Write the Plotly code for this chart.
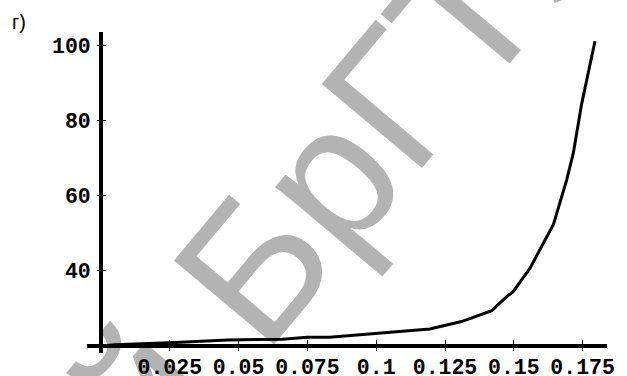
import plotly.graph_objects as go

# data
x_vals = [0.0, 0.005, 0.027, 0.046, 0.066, 0.075, 0.083, 0.110, 0.1195, 0.131, 0.134,
          0.142, 0.1474, 0.1497, 0.1559, 0.1644, 0.1692, 0.1716, 0.1747, 0.1795]
y_vals = [20.0, 20.3, 20.9, 21.6, 21.8, 22.3, 22.3, 23.8, 24.5, 26.5, 27.3,
          29.4, 33.1, 34.4, 40.7, 52.3, 64.1, 71.2, 84.5, 101.0]

x_ticks = [0.025, 0.05, 0.075, 0.1, 0.125, 0.15, 0.175]
x_tick_labels = ["0.025", "0.05", "0.075", "0.1", "0.125", "0.15", "0.175"]
y_ticks = [40, 60, 80, 100]
y_tick_labels = ["40", "60", "80", "100"]

panel_label = "г)"
watermark = "Репозиторий БрГТУ"

x_range = [-0.00509, 0.18387]
y_range = [18.139, 103.47]
x_cross = 0.0     # where the y axis sits
y_cross = 20.0    # where the x axis sits

pos_x_axis = (y_cross - y_range[0]) / (y_range[1] - y_range[0])
pos_y_axis = (x_cross - x_range[0]) / (x_range[1] - x_range[0])

tick_font = dict(family="Liberation Mono", size=21.5, color="black", weight="bold")

wm_cx, wm_cy = -0.1637, -0.5764   # watermark centre (paper units)

fig = go.Figure()
fig.add_trace(go.Scatter(x=x_vals, y=y_vals, mode="lines",
                         line=dict(color="black", width=3),
                         showlegend=False, hoverinfo="skip"))
fig.add_trace(go.Scatter(x=[None], y=[None], xaxis="x2", yaxis="y2",
                         showlegend=False, hoverinfo="skip"))

fig.update_layout(
    width=627, height=376,
    margin=dict(l=87, r=20, t=32, b=23, pad=0, autoexpand=False),
    paper_bgcolor="white", plot_bgcolor="white",
    xaxis=dict(range=x_range, anchor="free", position=pos_x_axis, automargin=False,
               showline=True, linewidth=4, linecolor="black",
               ticks="inside", ticklen=4, tickwidth=1, tickcolor="black",
               tickvals=x_ticks, ticktext=x_tick_labels, tickfont=tick_font,
               showgrid=False, zeroline=True, zerolinecolor="black", zerolinewidth=4),
    yaxis=dict(range=y_range, anchor="free", position=pos_y_axis, automargin=False,
               showline=False, ticks="outside", ticklen=4, tickwidth=1, tickcolor="black",
               tickvals=y_ticks, ticktext=y_tick_labels, tickfont=tick_font,
               ticklabelstandoff=2,
               showgrid=False, zeroline=False),
    xaxis2=dict(range=x_range, overlaying="x", anchor="free", position=pos_x_axis,
                automargin=False,
                showline=False, ticks="outside", ticklen=4, tickwidth=1, tickcolor="black",
                tickvals=x_ticks, showticklabels=False, showgrid=False, zeroline=False),
    yaxis2=dict(range=y_range, overlaying="y", anchor="free", position=pos_y_axis,
                automargin=False,
                showline=False, ticks="inside", ticklen=4, tickwidth=1, tickcolor="black",
                tickvals=y_ticks, showticklabels=False, showgrid=False, zeroline=False),
    shapes=[dict(type="rect", xref="paper", yref="paper",
                 x0=wm_cx - 0.001, x1=wm_cx + 0.001, y0=wm_cy - 0.001, y1=wm_cy + 0.001,
                 line=dict(width=0), fillcolor="rgba(0,0,0,0)", layer="below",
                 label=dict(text=watermark, textangle=-50, textposition="middle center",
                            font=dict(family="Liberation Sans", size=190, color="#b3b3b3")))],
    annotations=[dict(text=panel_label, xref="paper", yref="paper",
                      x=-0.148, y=1.031, xanchor="left", yanchor="middle",
                      showarrow=False,
                      font=dict(family="Liberation Sans", size=20, color="black"))],
)

fig.write_html("out.html")
